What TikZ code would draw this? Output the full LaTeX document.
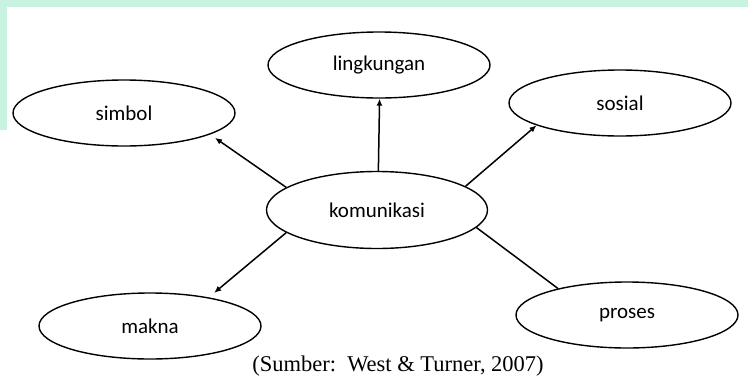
\documentclass[tikz,border=0pt]{standalone}
\usepackage{fontspec}
\setmainfont{Liberation Serif}
\newfontfamily\labelfont{Carlito}
\usetikzlibrary{shapes.geometric,arrows.meta}
\definecolor{mint}{HTML}{C8F3E0}
\tikzset{
  bubble/.style={ellipse, draw, line width=1.4pt, inner sep=0pt,
    minimum width=222pt, minimum height=66pt, font=\labelfont\fontsize{21}{24}\selectfont},
  hub/.style={bubble, minimum width=221pt, minimum height=77pt},
  link/.style={line width=1.5pt},
  arrowlink/.style={link, -{Latex[length=7pt,width=6pt]}}
}
\begin{document}
\begin{tikzpicture}[x=1pt,y=-1pt]
\useasboundingbox (0,0) rectangle (748,376);
\fill[white] (0,0) rectangle (748,376);
\fill[mint] (0,0) rectangle (748,7);
\fill[mint] (0,0) rectangle (7,130);
\node[hub] (kom) at (377,210) {komunikasi};
\node[bubble] (ling) at (379,65) {lingkungan};
\node[bubble] (sim) at (124,113) {simbol};
\node[bubble] (sos) at (620,103) {sosial};
\node[bubble] (mak) at (150,326) {makna};
\node[bubble] (pro) at (627,315) {proses};
\draw[arrowlink] (kom.88) -- (ling.-89);
\draw[arrowlink, shorten >=6pt] (kom.166) -- (sim.-14);
\draw[arrowlink] (kom.15) -- (sos.-165);
\draw[arrowlink, shorten >=7pt] (kom.194) -- (mak.26);
\draw[link] (kom.-10) -- (pro.159);
\node[font=\fontsize{22.5}{26}\selectfont, inner sep=0pt, anchor=base] (cap) at (398,371) {(Sumber:\hspace{0.5em}West \& Turner, 2007)};
\end{tikzpicture}
\end{document}
